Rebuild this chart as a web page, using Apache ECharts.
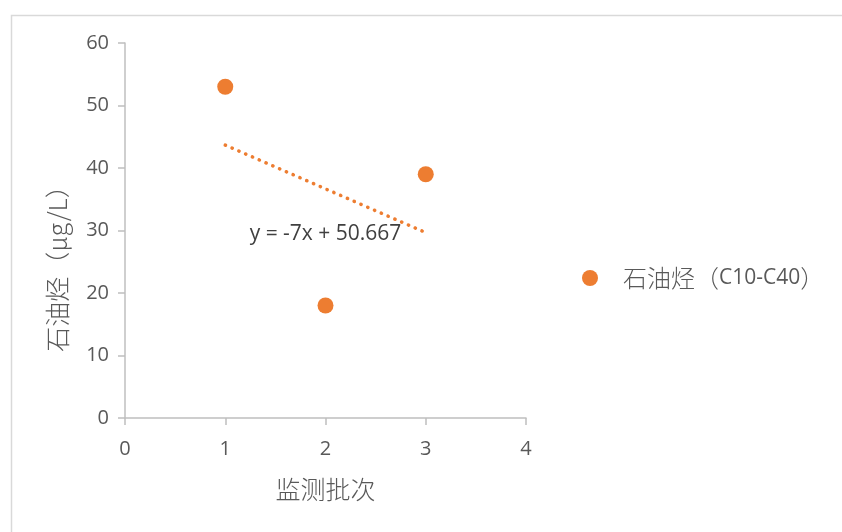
<!DOCTYPE html>
<html>
<head>
<meta charset="utf-8">
<script src="https://cdn.jsdelivr.net/npm/echarts@6/dist/echarts.min.js"></script>
<style>html,body{margin:0;padding:0;background:#fff;}#c{width:842px;height:532px;}</style>
</head>
<body>
<div id="c"></div>
<script>
const seriesName = '石油烃（C10-C40）';
const batchX = [1, 2, 3];
const tphValues = [53, 18, 39];
const trendX = [1, 3];
const trendY = [43.667, 29.667];
const trendText = 'y = -7x + 50.667';
const trendLabelPos = [2, 29.4];
const xTicks = [0, 1, 2, 3, 4];
const yTicks = [0, 10, 20, 30, 40, 50, 60];

const FONT = "'Open Sans', 'Noto Sans CJK SC', sans-serif";
const CJK = "'Noto Sans CJK SC', 'Open Sans', sans-serif";
const chart = echarts.init(document.getElementById('c'), null, {renderer: 'canvas'});
chart.setOption({
  animation: false,
  backgroundColor: '#fff',
  graphic: [{
    type: 'rect', left: 9, top: 13, z: -1,
    shape: {width: 900, height: 600},
    style: {fill: 'none', stroke: '#d9d9d9', lineWidth: 1.5}
  }],
  grid: {left: 125, top: 43, width: 401, height: 375},
  xAxis: {
    type: 'value', min: 0, max: 4, interval: 1,
    name: '监测批次', nameLocation: 'middle', nameGap: 59,
    nameTextStyle: {fontFamily: CJK, fontSize: 25, fontWeight: 300, color: '#595959'},
    axisLine: {show: true, lineStyle: {color: '#bfbfbf', width: 1.5}},
    axisTick: {show: true, inside: false, length: 7, lineStyle: {color: '#bfbfbf', width: 1.5}},
    axisLabel: {fontFamily: FONT, fontSize: 20, color: '#595959', margin: 21,
      formatter: v => xTicks.includes(v) ? String(v) : ''},
    splitLine: {show: false}
  },
  yAxis: {
    type: 'value', min: 0, max: 60, interval: 10,
    name: '石油烃（μg/L）', nameLocation: 'middle', nameGap: 55, nameRotate: 90,
    nameTextStyle: {fontFamily: CJK, fontSize: 25, fontWeight: 300, color: '#595959',
      padding: [0, 64, 0, 0]},
    axisLine: {show: true, lineStyle: {color: '#bfbfbf', width: 1.5}},
    axisTick: {show: true, inside: false, length: 7, lineStyle: {color: '#bfbfbf', width: 1.5}},
    axisLabel: {fontFamily: FONT, fontSize: 20, color: '#595959', margin: 16,
      formatter: v => yTicks.includes(v) ? String(v) : ''},
    splitLine: {show: false}
  },
  legend: {
    show: true, orient: 'vertical', left: 577, top: 261,
    data: [{name: seriesName, icon: 'circle', itemStyle: {opacity: 1}}],
    itemWidth: 16, itemHeight: 16,
    formatter: () => '{c|石油烃（}{l|C10-C40}{c|）}',
    textStyle: {
      fontFamily: FONT, fontSize: 21, color: '#595959', padding: [0, 0, 0, 20],
      rich: {
        c: {fontFamily: CJK, fontSize: 24, fontWeight: 300, color: '#595959'},
        l: {fontFamily: FONT, fontSize: 21, color: '#595959'}
      }
    }
  },
  series: [
    {
      name: seriesName, type: 'scatter', symbol: 'circle', symbolSize: 16,
      itemStyle: {color: '#ED7D31', opacity: 1},
      data: batchX.map((x, i) => [x, tphValues[i]]), z: 3
    },
    {
      name: 'trend', type: 'line', symbol: 'none', showSymbol: false,
      lineStyle: {color: '#ED7D31', width: 3.5, type: [0.3, 7.1], cap: 'round'},
      data: trendX.map((x, i) => [x, trendY[i]]), z: 2,
      markPoint: {
        symbol: 'circle', symbolSize: 0,
        data: [{coord: trendLabelPos, value: trendText}],
        label: {show: true, position: 'inside', formatter: trendText,
          fontFamily: FONT, fontSize: 21, color: '#404040'}
      }
    }
  ]
});
</script>
</body>
</html>
